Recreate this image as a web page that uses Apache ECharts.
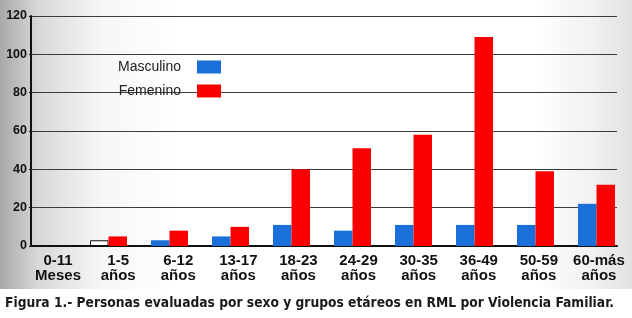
<!DOCTYPE html>
<html>
<head>
<meta charset="utf-8">
<script src="https://cdn.jsdelivr.net/npm/echarts@6/dist/echarts.min.js"></script>
<style>
  html, body { margin: 0; padding: 0; background: #fff; }
  #chart { width: 632px; height: 318px; }
</style>
</head>
<body>
<div id="chart"></div>
<script>
// age groups (two-line labels)
const categories = ['0-11\nMeses', '1-5\naños', '6-12\naños', '13-17\naños', '18-23\naños',
    '24-29\naños', '30-35\naños', '36-49\naños', '50-59\naños', '60-más\naños'];
const masculino = [0, 3, 3, 5, 11, 8, 11, 11, 11, 22];
const femenino = [0, 5, 8, 10, 40, 51, 58, 109, 39, 32];
const yTicks = [0, 20, 40, 60, 80, 100, 120];
const caption = 'Figura 1.- Personas evaluadas por sexo y grupos etáreos en RML por Violencia Familiar.';

const BLUE = '#1b6fd8';
const RED = '#fa0000';
const FONT = '"Liberation Sans", Arial, sans-serif';

let chart = echarts.init(document.getElementById('chart'));

let options = {
    animation: false,
    graphic: [
        {
            type: 'rect', z: -10, silent: true,
            shape: {x: 0, y: 0, width: 632, height: 289},
            style: {
                fill: new echarts.graphic.LinearGradient(0, 0, 1, 0, [
                    {offset: 0, color: '#a8a8a8'},
                    {offset: 0.06, color: '#d8d8d8'},
                    {offset: 0.16, color: '#f6f6f6'},
                    {offset: 0.28, color: '#ffffff'},
                    {offset: 0.85, color: '#ffffff'},
                    {offset: 0.94, color: '#f0f0f0'},
                    {offset: 1, color: '#e2e2e2'}
                ])
            }
        },
        {
            type: 'text', left: 5, top: 296,
            style: {
                text: caption,
                fill: '#1a1a1a',
                font: 'bold 13.7px "DejaVu Sans Condensed", sans-serif'
            }
        }
    ],
    legend: {
        data: ['Masculino', 'Femenino'],
        orient: 'vertical',
        align: 'right',
        left: 113,
        top: 55,
        itemWidth: 24,
        itemHeight: 13,
        itemGap: 10,
        icon: 'rect',
        textStyle: {fontSize: 14, fontFamily: FONT, color: '#222', padding: [0, 11, 0, 0]}
    },
    grid: [
        {left: 31, right: 15, top: 16, bottom: 72},  // axes + grid lines
        {left: 17, right: 5, top: 16, bottom: 72},   // bars
        {left: 28, right: 3, top: 16, bottom: 72}    // category labels
    ],
    xAxis: [
        {
            gridIndex: 0, type: 'category', data: categories,
            axisLine: {lineStyle: {color: '#111', width: 2}},
            axisTick: {show: false}, axisLabel: {show: false}
        },
        {
            gridIndex: 1, type: 'category', data: categories,
            axisLine: {show: false}, axisTick: {show: false}, axisLabel: {show: false}
        },
        {
            gridIndex: 2, type: 'category', data: categories,
            axisLine: {show: false}, axisTick: {show: false},
            axisLabel: {
                margin: 7, fontSize: 15, fontWeight: 'bold', fontFamily: FONT,
                color: '#111', lineHeight: 15, interval: 0
            }
        }
    ],
    yAxis: [
        {
            gridIndex: 0, type: 'value', min: 0, max: 120, interval: 20,
            axisLine: {show: true, lineStyle: {color: '#111', width: 2}},
            axisTick: {show: true, length: 2, lineStyle: {color: '#111'}},
            axisLabel: {
                margin: 4, fontSize: 12.5, fontWeight: 'bold', fontFamily: FONT, color: '#111',
                formatter: v => yTicks.includes(v) ? String(v) : ''
            },
            splitLine: {lineStyle: {color: '#3c3c3c', width: 1.2}}
        },
        {gridIndex: 1, type: 'value', min: 0, max: 120, show: false},
        {gridIndex: 2, type: 'value', min: 0, max: 120, show: false}
    ],
    series: [
        {
            name: 'Masculino', type: 'bar', xAxisIndex: 1, yAxisIndex: 1,
            barWidth: 18.5, barGap: '0%',
            itemStyle: {color: BLUE},
            // the 1-5 años bar is printed hollow in the original
            data: masculino.map((v, i) => i === 1
                ? {value: v, itemStyle: {color: '#fff', borderColor: '#111', borderWidth: 1}}
                : v)
        },
        {
            name: 'Femenino', type: 'bar', xAxisIndex: 1, yAxisIndex: 1,
            barWidth: 18.5, barGap: '0%',
            itemStyle: {color: RED},
            data: femenino
        }
    ]
};

chart.setOption(options);
</script>
</body>
</html>
